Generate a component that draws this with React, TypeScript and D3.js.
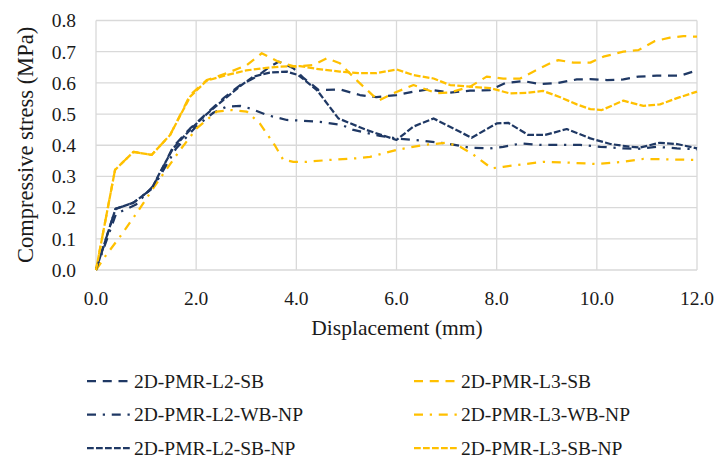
import React from "react";
import * as d3 from "d3";

type P = [number, number];

const xTicks = [0, 2, 4, 6, 8, 10, 12];
const yTicks = [0, 0.1, 0.2, 0.3, 0.4, 0.5, 0.6, 0.7, 0.8];

const L2_SB: P[] = [[0,0],[0.39,0.196],[0.75,0.216],[1.11,0.26],[1.28,0.31],[1.54,0.395],[1.88,0.454],[2.21,0.502],[2.54,0.55],[2.88,0.593],[3.21,0.62],[3.47,0.652],[3.65,0.668],[3.94,0.647],[4.15,0.615],[4.45,0.577],[4.87,0.579],[5.27,0.561],[5.6,0.554],[6.0,0.561],[6.34,0.572],[6.64,0.579],[7.07,0.569],[7.47,0.575],[7.87,0.577],[8.17,0.599],[8.53,0.606],[8.87,0.596],[9.2,0.599],[9.6,0.611],[9.87,0.612],[10.2,0.609],[10.53,0.611],[10.83,0.62],[11.2,0.623],[11.66,0.623],[12.0,0.64]];
const L3_SB: P[] = [[0,0],[0.38,0.321],[0.75,0.379],[1.11,0.369],[1.48,0.433],[1.88,0.561],[2.21,0.609],[2.61,0.631],[3.01,0.657],[3.31,0.695],[3.64,0.668],[3.97,0.652],[4.34,0.657],[4.61,0.679],[4.87,0.663],[5.2,0.609],[5.64,0.543],[5.94,0.567],[6.34,0.593],[6.8,0.567],[7.07,0.569],[7.47,0.588],[7.8,0.62],[8.13,0.614],[8.47,0.614],[8.73,0.636],[9.07,0.663],[9.23,0.673],[9.53,0.665],[9.87,0.665],[10.13,0.684],[10.53,0.7],[10.83,0.705],[11.16,0.734],[11.46,0.745],[11.73,0.75],[12.0,0.748]];
const L2_WB_NP: P[] = [[0,0],[0.4,0.18],[0.8,0.21],[1.2,0.28],[1.6,0.39],[2.0,0.46],[2.35,0.505],[2.61,0.524],[2.88,0.526],[3.08,0.518],[3.41,0.497],[3.81,0.481],[4.07,0.479],[4.47,0.475],[4.91,0.465],[5.14,0.449],[5.67,0.43],[6.0,0.422],[6.54,0.414],[7.0,0.406],[7.47,0.392],[7.87,0.39],[8.13,0.395],[8.5,0.406],[8.87,0.401],[9.27,0.401],[9.67,0.401],[10.07,0.395],[10.53,0.39],[10.8,0.388],[11.2,0.395],[11.6,0.39],[12.0,0.387]];
const L3_WB_NP: P[] = [[0,0],[0.18,0.043],[0.48,0.107],[0.81,0.182],[1.21,0.278],[1.68,0.385],[2.01,0.454],[2.41,0.508],[2.68,0.513],[3.01,0.508],[3.27,0.47],[3.57,0.4],[3.74,0.353],[3.94,0.347],[4.21,0.347],[4.67,0.353],[5.2,0.358],[5.47,0.363],[6.0,0.385],[6.54,0.401],[7.0,0.408],[7.27,0.395],[7.5,0.374],[7.9,0.326],[8.13,0.331],[8.43,0.337],[8.93,0.347],[9.46,0.344],[9.99,0.34],[10.53,0.347],[10.93,0.356],[11.33,0.355],[12.0,0.353]];
const L2_SB_NP: P[] = [[0,0],[0.39,0.196],[0.75,0.216],[1.11,0.26],[1.3,0.32],[1.54,0.39],[1.88,0.45],[2.21,0.5],[2.54,0.545],[2.88,0.59],[3.14,0.62],[3.47,0.633],[3.81,0.636],[4.04,0.625],[4.41,0.577],[4.84,0.486],[5.4,0.449],[6.0,0.417],[6.34,0.46],[6.74,0.486],[7.5,0.424],[8.0,0.47],[8.23,0.472],[8.63,0.433],[8.97,0.433],[9.4,0.452],[9.87,0.422],[10.27,0.404],[10.67,0.395],[10.87,0.393],[11.26,0.408],[11.6,0.404],[12.0,0.39]];
const L3_SB_NP: P[] = [[0,0],[0.38,0.321],[0.75,0.379],[1.11,0.369],[1.48,0.433],[1.88,0.556],[2.21,0.607],[2.61,0.625],[3.0,0.64],[3.4,0.648],[3.67,0.652],[4.07,0.654],[4.4,0.645],[4.87,0.636],[5.27,0.631],[5.6,0.631],[6.0,0.643],[6.34,0.625],[6.74,0.614],[7.07,0.593],[7.47,0.588],[7.87,0.583],[8.27,0.566],[8.6,0.568],[8.93,0.574],[9.27,0.554],[9.6,0.531],[9.87,0.516],[10.1,0.513],[10.53,0.543],[10.93,0.526],[11.26,0.531],[11.6,0.551],[12.0,0.572]];

const seriesNames = ["2D-PMR-L2-SB", "2D-PMR-L3-SB", "2D-PMR-L2-WB-NP", "2D-PMR-L3-WB-NP", "2D-PMR-L2-SB-NP", "2D-PMR-L3-SB-NP"];
const seriesData = [L2_SB, L3_SB, L2_WB_NP, L3_WB_NP, L2_SB_NP, L3_SB_NP];

const NAVY = "#1f3864";
const GOLD = "#ffc000";
const colors = [NAVY, GOLD, NAVY, GOLD, NAVY, GOLD];
const dashes = ["9,6.75", "9,6.75", "9,6.75,2.25,6.75", "9,6.75,2.25,6.75", "6.75,2.25", "6.75,2.25"];

const FONT = "'Liberation Serif', 'Times New Roman', serif";

export default function App() {
  const W = 718, H = 461;
  const x = d3.scaleLinear().domain([0, 12]).range([96, 697]);
  const y = d3.scaleLinear().domain([0, 0.8]).range([270, 20.5]);
  const line = d3.line<P>().x(d => x(d[0])).y(d => y(d[1]));

  return (
    <svg width={W} height={H} style={{ position: "absolute", left: 0, top: 0, background: "#fff" }} fontFamily={FONT}>
      <rect width={W} height={H} fill="#fff" />
      {yTicks.map(t => (
        <line key={"gy" + t} x1={x(0)} x2={x(12)} y1={y(t)} y2={y(t)} stroke="#d9d9d9" strokeWidth={1.3} />
      ))}
      {xTicks.map(t => (
        <line key={"gx" + t} x1={x(t)} x2={x(t)} y1={y(0)} y2={y(0.8)} stroke="#d9d9d9" strokeWidth={1.3} />
      ))}
      {yTicks.map(t => (
        <text key={"ty" + t} x={76} y={y(t)} dy="0.35em" textAnchor="end" fontSize={19.5} fill="#1a1a1a">{t.toFixed(1)}</text>
      ))}
      {xTicks.map(t => (
        <text key={"tx" + t} x={x(t)} y={305} textAnchor="middle" fontSize={19.5} fill="#1a1a1a">{t.toFixed(1)}</text>
      ))}
      <text x={397} y={335} textAnchor="middle" fontSize={21.5} fill="#1a1a1a">Displacement (mm)</text>
      <text transform={`translate(33,145) rotate(-90)`} textAnchor="middle" fontSize={22.5} fill="#1a1a1a">Compressive stress (MPa)</text>
      {seriesData.map((s, i) => (
        <path key={"s" + i} d={line(s) || ""} fill="none" stroke={colors[i]} strokeWidth={2.25} strokeDasharray={dashes[i]} strokeLinejoin="round" />
      ))}
      {seriesNames.map((n, i) => {
        const col = i % 2;
        const row = Math.floor(i / 2);
        const lx = col === 0 ? 87 : 414;
        const ly = 381 + row * 33.5;
        return (
          <g key={"lg" + i}>
            <line x1={lx} x2={lx + 43} y1={ly} y2={ly} stroke={colors[i]} strokeWidth={2.25} strokeDasharray={dashes[i]} />
            <text x={lx + 47} y={ly} dy="0.35em" fontSize={19.5} fill="#1a1a1a">{n}</text>
          </g>
        );
      })}
    </svg>
  );
}
